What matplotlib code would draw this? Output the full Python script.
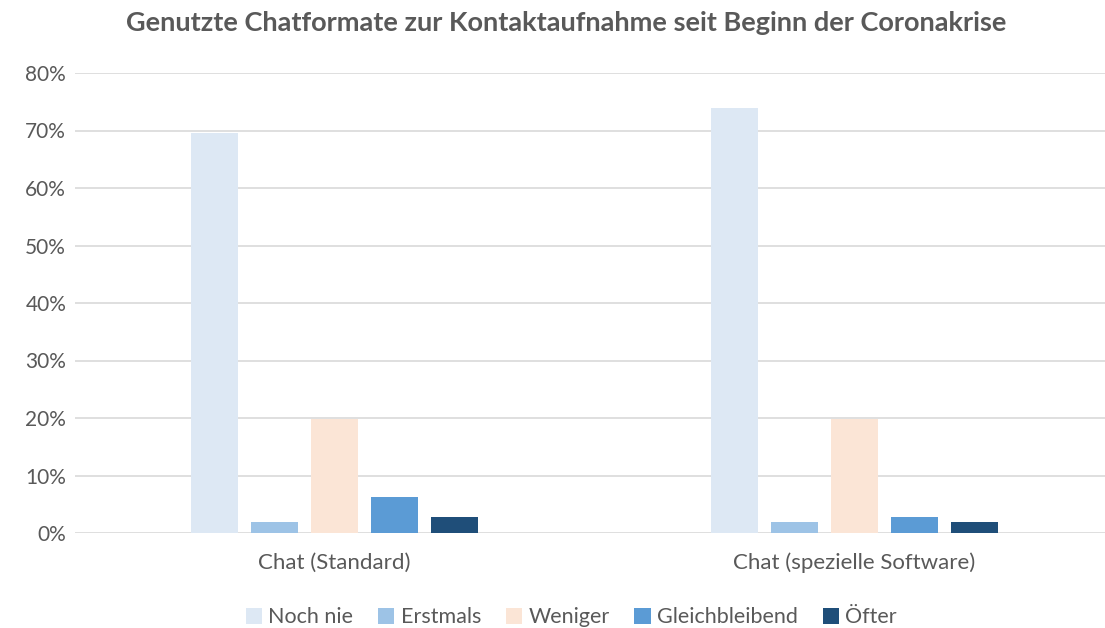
import matplotlib.pyplot as plt
import numpy as np

plt.rcParams['font.family'] = ['Lato', 'DejaVu Sans']

categories = ["Chat (Standard)", "Chat (spezielle Software)"]
series = ["Noch nie", "Erstmals", "Weniger", "Gleichbleibend", "Öfter"]
values = {
    "Noch nie": [69.5, 74.0],
    "Erstmals": [1.9, 1.9],
    "Weniger": [19.8, 19.8],
    "Gleichbleibend": [6.2, 2.7],
    "Öfter": [2.7, 1.9],
}
colors = ["#DDE8F4", "#9DC3E6", "#FBE5D6", "#5B9BD5", "#1F4E79"]
text_color = "#595959"

fig = plt.figure(figsize=(11.05, 6.28), dpi=100)
ax = fig.add_axes([74.5 / 1105, 95 / 628, 1 - 74.5 / 1105, 460 / 628])

x = np.arange(len(categories))
slot = 60 / 520
width = 47.5 / 520
for i, name in enumerate(series):
    ax.bar(x + (i - 2) * slot, values[name], width, color=colors[i],
           label=name, zorder=3)

ax.set_xlim(-0.5, -0.5 + (1105 - 74.5) / 520)
ax.set_ylim(0, 80)
ax.set_yticks(np.arange(0, 81, 10))
ax.set_yticklabels([f"{v}%" for v in range(0, 81, 10)])
ax.set_xticks(x)
ax.set_xticklabels(categories)
ax.grid(axis="y", color="#D9D9D9", linewidth=1.2, zorder=0)
for s in ax.spines.values():
    s.set_visible(False)
ax.tick_params(axis="both", length=0, labelsize=15, colors=text_color)
ax.tick_params(axis="x", labelsize=16, pad=14)
ax.tick_params(axis="y", pad=6)

fig.suptitle("Genutzte Chatformate zur Kontaktaufnahme seit Beginn der Coronakrise",
             x=0.512, y=0.982, fontsize=19.5, fontweight="bold", color=text_color)

fig.legend(loc="lower center", bbox_to_anchor=(0.517, -0.03), ncol=5, frameon=False,
           fontsize=15.5, labelcolor=text_color, handlelength=0.75, handleheight=0.75,
           handletextpad=0.3, columnspacing=1.15)

fig.savefig("out.png", dpi=100)
